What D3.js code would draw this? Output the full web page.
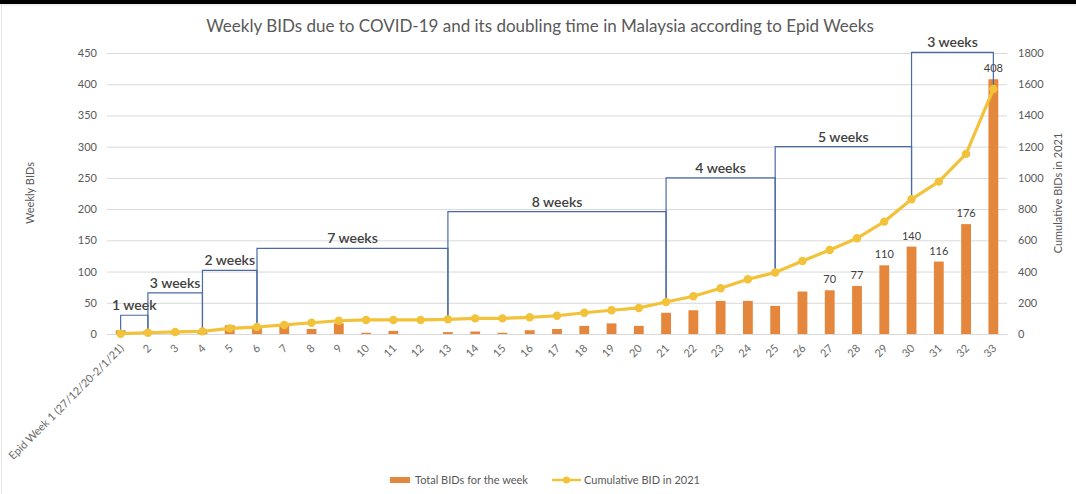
<!DOCTYPE html>
<html>
<head>
<meta charset="utf-8">
<script src="https://cdn.jsdelivr.net/npm/d3@7"></script>
<style>
  html, body { margin: 0; padding: 0; background: #fff; }
  svg { display: block; font-family: Lato, "Open Sans", sans-serif; }
</style>
</head>
<body>
<svg id="chart" width="1076" height="494"></svg>
<script>
"use strict";

// Epid weeks 1..33
const weeks = d3.range(1, 34).map(String);
const weekLabels = weeks.map(w => w === "1" ? "Epid Week 1 (27/12/20-2/1/21)" : w);

// Weekly BIDs (bars, left axis)
const weeklyBIDs = [6, 5, 1, 3, 14, 12, 15, 8, 17, 2, 5, 0, 3, 4, 2, 6, 8, 13, 17, 13,
  34, 38, 53, 53, 45, 68, 70, 77, 110, 140, 116, 176, 408];

// Cumulative BIDs in 2021 (line, right axis)
const cumulativeBIDs = [2, 8, 13, 17, 36, 45, 58, 72, 85, 90, 90, 90, 94, 100, 100, 107, 117, 136, 152, 167,
  205, 242, 293, 351, 394, 468, 538, 613, 720, 863, 976, 1154, 1569];

// Bars that carry a value label
const labelledWeeks = ["27", "28", "29", "30", "31", "32", "33"];

// Doubling-time brackets: start week, end week, label, bracket level (left axis units)
const bracketStart = ["1", "2", "4", "6", "13", "21", "25", "30"];
const bracketEnd = ["2", "4", "6", "13", "21", "25", "30", "33"];
const bracketText = ["1 week", "3 weeks", "2 weeks", "7 weeks", "8 weeks", "4 weeks", "5 weeks", "3 weeks"];
const bracketLevel = [30, 66, 102, 137, 196, 250, 300, 451];

const leftTicks = d3.range(0, 451, 50);
const rightTicks = d3.range(0, 1801, 200);

const W = 1076, H = 494;
const plot = {left: 107, right: 1007, top: 53, bottom: 334};
const svg = d3.select("#chart");
const textCol = "#595959";

// frame of the screenshot
svg.append("rect").attr("x", 0).attr("y", 0).attr("width", W).attr("height", 4).attr("fill", "#000");
svg.append("line").attr("x1", 0).attr("x2", W).attr("y1", 5).attr("y2", 5).attr("stroke", "#e4e4e4");
svg.append("line").attr("x1", 1.5).attr("x2", 1.5).attr("y1", 5).attr("y2", H).attr("stroke", "#e4e4e4");

const x = d3.scaleBand().domain(weeks).range([plot.left, plot.right]).paddingInner(0.64).paddingOuter(0.32);
const cx = w => x(w) + x.bandwidth() / 2;
const yL = d3.scaleLinear().domain([0, 450]).range([plot.bottom, plot.top]);
const yR = d3.scaleLinear().domain([0, 1800]).range([plot.bottom, plot.top]);

// title
svg.append("text").attr("x", 540).attr("y", 32).attr("text-anchor", "middle")
  .attr("font-size", 17).attr("fill", textCol)
  .text("Weekly BIDs due to COVID-19 and its doubling time in Malaysia according to Epid Weeks");

// grid + left axis
const gL = svg.append("g").attr("transform", `translate(${plot.left},0)`)
  .call(d3.axisLeft(yL).tickValues(leftTicks).tickSize(-(plot.right - plot.left)).tickPadding(10));
gL.select(".domain").remove();
gL.selectAll(".tick line").attr("stroke", "#d9d9d9");
gL.selectAll(".tick text").attr("fill", textCol).attr("font-size", 11).attr("font-family", "Lato, sans-serif");

// right axis
const gR = svg.append("g").attr("transform", `translate(${plot.right},0)`)
  .call(d3.axisRight(yR).tickValues(rightTicks).tickFormat(d3.format("d")).tickSize(0).tickPadding(11));
gR.select(".domain").remove();
gR.selectAll(".tick text").attr("fill", textCol).attr("font-size", 11).attr("font-family", "Lato, sans-serif");

// axis titles
svg.append("text").attr("transform", "translate(34,193) rotate(-90)").attr("text-anchor", "middle")
  .attr("font-size", 11).attr("fill", textCol).text("Weekly BIDs");
svg.append("text").attr("transform", "translate(1062,193) rotate(-90)").attr("text-anchor", "middle")
  .attr("font-size", 11).attr("fill", textCol).text("Cumulative BIDs in 2021");

// x axis
const gX = svg.append("g").attr("transform", `translate(0,${plot.bottom})`)
  .call(d3.axisBottom(x).tickSize(0).tickPadding(0).tickFormat((d, i) => weekLabels[i]));
gX.select(".domain").attr("stroke", "#d9d9d9");
gX.selectAll(".tick text")
  .attr("fill", "#6a6a6a").attr("font-size", 11).attr("font-family", "Lato, sans-serif")
  .attr("text-anchor", "end").attr("dy", 0)
  .attr("transform", "translate(4,15) rotate(-45)");

// bars
svg.append("g").selectAll("rect").data(weeks).join("rect")
  .attr("x", d => x(d))
  .attr("width", x.bandwidth())
  .attr("y", (d, i) => yL(weeklyBIDs[i]))
  .attr("height", (d, i) => yL(0) - yL(weeklyBIDs[i]))
  .attr("fill", "#e4873c");

// bar value labels
svg.append("g").selectAll("text").data(labelledWeeks).join("text")
  .attr("x", d => cx(d))
  .attr("y", d => yL(weeklyBIDs[weeks.indexOf(d)]) - 7)
  .attr("text-anchor", "middle").attr("font-size", 11).attr("fill", "#404040")
  .text(d => weeklyBIDs[weeks.indexOf(d)]);

// doubling-time brackets
const ptY = w => yR(cumulativeBIDs[weeks.indexOf(w)]);
const gB = svg.append("g");
bracketStart.forEach((s, i) => {
  const e = bracketEnd[i];
  const lvl = yL(bracketLevel[i]);
  const p = d3.path();
  p.moveTo(cx(s), ptY(s));
  p.lineTo(cx(s), lvl);
  p.lineTo(cx(e), lvl);
  p.lineTo(cx(e), ptY(e));
  gB.append("path").attr("d", p.toString()).attr("fill", "none")
    .attr("stroke", "#4a6aa5").attr("stroke-width", 1.2);
  gB.append("text").attr("x", (cx(s) + cx(e)) / 2).attr("y", lvl - 5)
    .attr("text-anchor", "middle").attr("font-size", 14).attr("font-weight", 600)
    .attr("fill", "#404040").text(bracketText[i]);
});

// cumulative line
const lineCol = "#f2c23a";
svg.append("path").datum(weeks)
  .attr("d", d3.line().x(d => cx(d)).y((d, i) => yR(cumulativeBIDs[i])))
  .attr("fill", "none").attr("stroke", lineCol).attr("stroke-width", 3.2);
svg.append("g").selectAll("circle").data(weeks).join("circle")
  .attr("cx", d => cx(d)).attr("cy", (d, i) => yR(cumulativeBIDs[i]))
  .attr("r", 4.2).attr("fill", lineCol);

// legend
const lg = svg.append("g").attr("font-size", 11).attr("fill", textCol);
lg.append("rect").attr("x", 390).attr("y", 477).attr("width", 20).attr("height", 6).attr("fill", "#e4873c");
lg.append("text").attr("x", 415).attr("y", 484).text("Total BIDs for the week");
lg.append("line").attr("x1", 552).attr("x2", 581).attr("y1", 480).attr("y2", 480)
  .attr("stroke", lineCol).attr("stroke-width", 2.5);
lg.append("circle").attr("cx", 566.5).attr("cy", 480).attr("r", 3.5).attr("fill", lineCol);
lg.append("text").attr("x", 584).attr("y", 484).text("Cumulative BID in 2021");
</script>
</body>
</html>
